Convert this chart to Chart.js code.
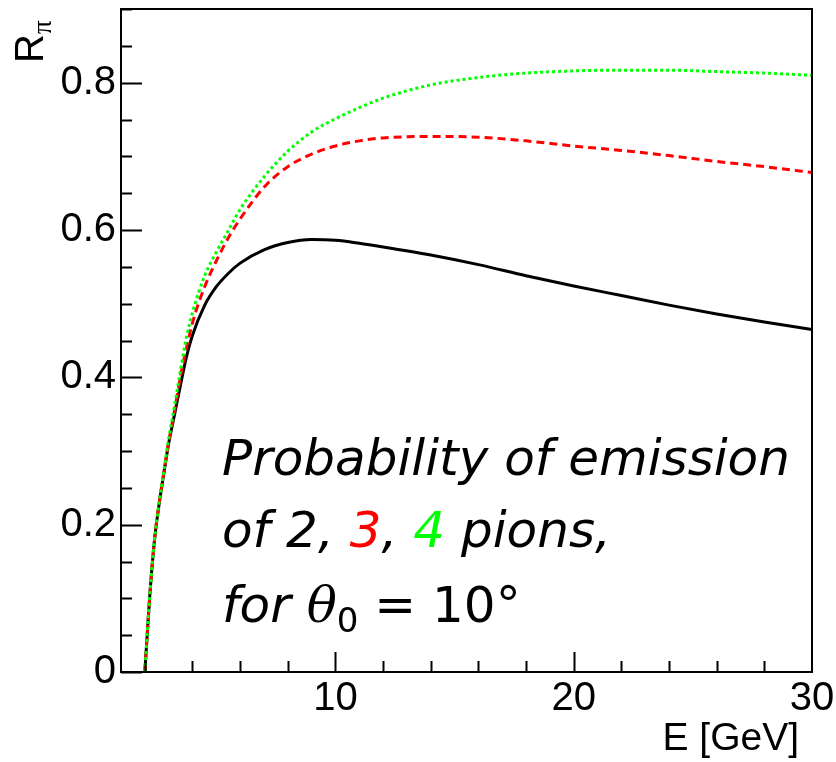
<!DOCTYPE html>
<html>
<head>
<meta charset="utf-8">
<script src="https://cdn.jsdelivr.net/npm/chart.js@4.4.0/dist/chart.umd.min.js"></script>
<style>
    html, body { margin: 0; padding: 0; background: #fff; }
    canvas { display: block; }
</style>
</head>
<body>
<canvas id="chart" width="836" height="762"></canvas>
<script>
// E [GeV] sampling points
const energy     = [2, 2.2, 2.4, 2.6, 2.8, 3, 3.25, 3.5, 3.75, 4, 4.5, 5, 5.5, 6, 7, 8, 9, 10, 11, 12, 14, 16, 18, 20, 22, 24, 26, 28, 30];
const twoPions   = [0, 0.10, 0.177, 0.228, 0.27, 0.31, 0.350, 0.39, 0.428, 0.457, 0.497, 0.523, 0.541, 0.555, 0.573, 0.583, 0.587, 0.586, 0.582, 0.577, 0.566, 0.553, 0.538, 0.524, 0.511, 0.498, 0.486, 0.475, 0.465];
const threePions = [0, 0.10, 0.178, 0.229, 0.271, 0.312, 0.355, 0.402, 0.44, 0.474, 0.522, 0.558, 0.589, 0.615, 0.658, 0.686, 0.703, 0.714, 0.721, 0.725, 0.727, 0.726, 0.721, 0.714, 0.708, 0.701, 0.693, 0.686, 0.678];
const fourPions  = [0, 0.10, 0.178, 0.23, 0.273, 0.316, 0.362, 0.41, 0.455, 0.488, 0.537, 0.570, 0.599, 0.628, 0.672, 0.707, 0.733, 0.751, 0.766, 0.779, 0.797, 0.807, 0.813, 0.816, 0.817, 0.817, 0.815, 0.813, 0.810];

// axes
const xRange = [1, 30];
const yRange = [0, 0.9];
const xTickLabels = [10, 20, 30];
const yTickLabels = [0, 0.2, 0.4, 0.6, 0.8];
const xMinorStep = 2;
const yMinorStep = 0.05;

const toPoints = vals => vals.map((v, i) => ({ x: energy[i], y: v }));

function drawRuns(ctx, x, y, runs) {
    runs.forEach(r => {
        ctx.font = r.font;
        ctx.fillStyle = r.color || '#000';
        ctx.fillText(r.text, x, y + (r.dy || 0));
        x += ctx.measureText(r.text).width;
    });
}

// ticks inside the frame, ROOT style
const frameAndTicks = {
    id: 'frameAndTicks',
    afterDatasetsDraw(chart) {
        const { ctx, chartArea: a, scales: { x, y } } = chart;
        ctx.save();
        ctx.strokeStyle = '#000';
        ctx.lineWidth = 2;
        ctx.beginPath();
        for (let i = 0; i * yMinorStep <= yRange[1] + 1e-9; i++) {
            const v = i * yMinorStep;
            const major = yTickLabels.some(t => Math.abs(t - v) < 1e-6);
            const py = Math.round(y.getPixelForValue(v)) + 0.5;
            ctx.moveTo(a.left, py);
            ctx.lineTo(a.left + (major ? 21 : 11), py);
        }
        for (let v = xMinorStep; v < xRange[1]; v += xMinorStep) {
            const major = xTickLabels.includes(v);
            const px = Math.round(x.getPixelForValue(v)) + 0.5;
            ctx.moveTo(px, a.bottom);
            ctx.lineTo(px, a.bottom - (major ? 20 : 11));
        }
        ctx.stroke();
        ctx.lineWidth = 2;
        ctx.strokeRect(a.left, a.top, a.width, a.height);
        ctx.restore();
    },
    afterDraw(chart) {
        const ctx = chart.ctx;
        ctx.save();
        ctx.textBaseline = 'alphabetic';

        // y title
        ctx.save();
        ctx.translate(43, 63);
        ctx.rotate(-Math.PI / 2);
        ctx.textAlign = 'left';
        drawRuns(ctx, 0, 0, [
            { text: 'R', font: '40px "Liberation Sans"' },
            { text: 'π', font: '27px "Liberation Serif"', dy: 8 }
        ]);
        ctx.restore();

        // x title
        ctx.textAlign = 'right';
        ctx.font = '39px "Liberation Sans"';
        ctx.fillStyle = '#000';
        ctx.fillText('E [GeV]', 799, 750);

        // annotation
        ctx.textAlign = 'left';
        const it = 'italic 50px "DejaVu Sans"';
        drawRuns(ctx, 222, 475, [{ text: 'Probability of emission', font: it }]);
        drawRuns(ctx, 222, 547, [
            { text: 'of 2, ', font: it },
            { text: '3', font: it, color: '#ff0000' },
            { text: ', ', font: it },
            { text: '4', font: it, color: '#00ff00' },
            { text: ' pions,', font: it }
        ]);
        drawRuns(ctx, 222, 622, [
            { text: 'for ', font: it },
            { text: 'θ', font: 'italic 50px "DejaVu Serif"' },
            { text: '0', font: '34px "DejaVu Sans"', dy: 10 },
            { text: ' = 10°', font: '50px "DejaVu Sans"' }
        ]);
        ctx.restore();
    }
};

new Chart(document.getElementById('chart'), {
    type: 'line',
    data: {
        datasets: [
            {
                label: '2 pions',
                data: toPoints(twoPions),
                borderColor: '#000000',
                borderWidth: 3,
                order: 3
            },
            {
                label: '3 pions',
                data: toPoints(threePions),
                borderColor: '#ff0000',
                borderWidth: 3,
                borderDash: [8, 5],
                order: 2
            },
            {
                label: '4 pions',
                data: toPoints(fourPions),
                borderColor: '#00ff00',
                borderWidth: 3,
                borderDash: [3, 3],
                order: 1
            }
        ]
    },
    options: {
        responsive: false,
        animation: false,
        devicePixelRatio: 1,
        parsing: false,
        elements: {
            point: { radius: 0 },
            line: { cubicInterpolationMode: 'monotone', fill: false }
        },
        layout: { padding: { top: 9, right: 24, left: 0, bottom: 0 } },
        plugins: {
            legend: { display: false },
            tooltip: { enabled: false }
        },
        scales: {
            x: {
                type: 'linear',
                min: xRange[0],
                max: xRange[1],
                grid: { display: false, drawTicks: false },
                border: { display: false },
                afterBuildTicks: s => { s.ticks = xTickLabels.map(v => ({ value: v })); },
                afterFit: s => { s.height = 90; s.paddingLeft = 0; s.paddingRight = 0; },
                ticks: {
                    padding: 3,
                    color: '#000',
                    maxRotation: 0,
                    font: { family: 'Liberation Sans', size: 40 },
                    callback: v => String(v)
                }
            },
            y: {
                type: 'linear',
                min: yRange[0],
                max: yRange[1],
                grid: { display: false, drawTicks: false },
                border: { display: false },
                afterBuildTicks: s => { s.ticks = yTickLabels.map(v => ({ value: v })); },
                afterFit: s => { s.width = 121; s.paddingTop = 0; s.paddingBottom = 0; },
                ticks: {
                    padding: 5,
                    color: '#000',
                    font: { family: 'Liberation Sans', size: 40 },
                    callback: v => String(v)
                }
            }
        }
    },
    plugins: [frameAndTicks]
});
</script>
</body>
</html>
